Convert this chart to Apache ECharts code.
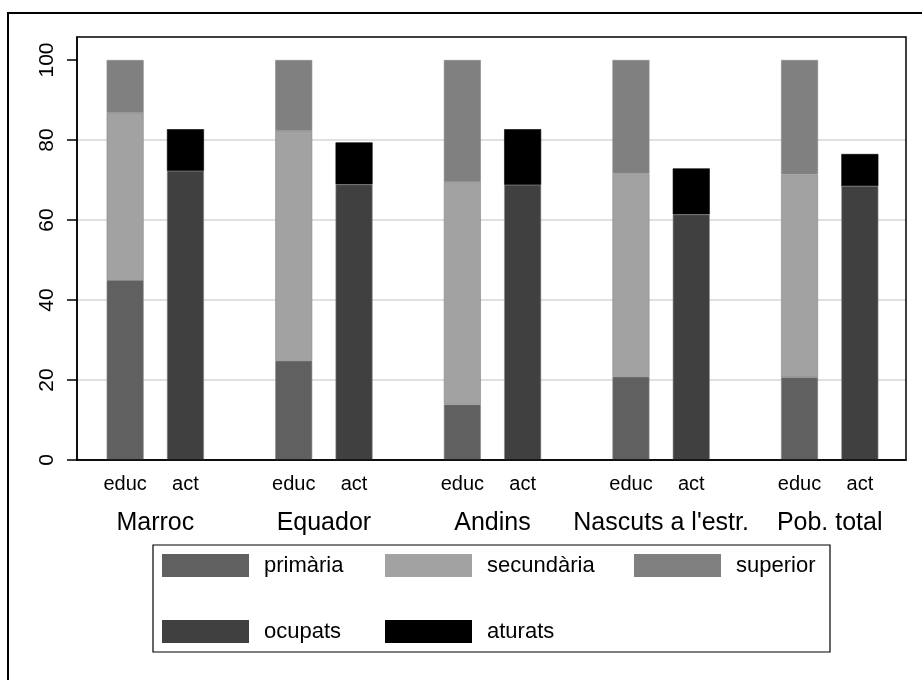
<!DOCTYPE html>
<html>
<head>
<meta charset="utf-8">
<script src="https://cdn.jsdelivr.net/npm/echarts@6/dist/echarts.min.js"></script>
<style>
html, body { margin: 0; padding: 0; background: #fff; }
#chart { width: 922px; height: 680px; }
</style>
</head>
<body>
<div id="chart"></div>
<script type="text/javascript">

// dades
var groups = ['Marroc', 'Equador', 'Andins', 'Nascuts a l\'estr.', 'Pob. total'];
var subLabels = ['educ', 'act'];
var primaria   = [45.0, 24.8, 13.9, 20.8, 20.7];
var secundaria = [41.8, 57.5, 55.6, 50.9, 50.7];
var superior   = [13.2, 17.7, 30.5, 28.3, 28.6];
var ocupats    = [72.3, 68.9, 68.8, 61.4, 68.5];
var aturats    = [10.4, 10.5, 13.9, 11.5, 8.0];
var yTicks     = [0, 20, 40, 60, 80, 100];

var font = 'Liberation Sans, Arial, sans-serif';
var yMax = 105.75;

function legendItem(name, left, top) {
    return {
        data: [name],
        left: left,
        top: top,
        orient: 'horizontal',
        padding: 0,
        icon: 'rect',
        itemWidth: 87,
        itemHeight: 23,
        selectedMode: false,
        itemStyle: { borderWidth: 0 },
        textStyle: { fontFamily: font, fontSize: 22, color: '#000', padding: [0, 0, 0, 10] }
    };
}

function bar(name, data, stack, color, label) {
    var s = {
        name: name,
        type: 'bar',
        stack: stack,
        xAxisIndex: 1,
        yAxisIndex: 1,
        data: data,
        barWidth: 37,
        barGap: '63%',
        itemStyle: { color: color, borderColor: color === '#000000' ? '#000' : '#8a8a8a', borderWidth: 0.6 }
    };
    if (label) {
        s.label = {
            show: true,
            position: 'bottom',
            distance: 14,
            formatter: label,
            fontFamily: font,
            fontSize: 20,
            color: '#000'
        };
    }
    return s;
}

var option = {
    animation: false,
    backgroundColor: '#fff',
    grid: [
        { left: 77, right: 16, top: 37, bottom: 220 },
        { left: 71, right: 8, top: 37, bottom: 220 }
    ],
    legend: [
        legendItem('primària', 162, 554),
        legendItem('secundària', 385, 554),
        legendItem('superior', 634, 554),
        legendItem('ocupats', 162, 620),
        legendItem('aturats', 385, 620)
    ],
    xAxis: [
        {
            gridIndex: 0, type: 'value', min: 0, max: 1,
            axisLine: { show: true, lineStyle: { color: '#000', width: 1.5 } },
            axisTick: { show: false }, axisLabel: { show: false }, splitLine: { show: false }
        },
        {
            gridIndex: 1, type: 'category', data: groups,
            axisLine: { show: false }, axisTick: { show: false },
            axisLabel: { interval: 0, margin: 51, fontFamily: font, fontSize: 25, color: '#000' }
        }
    ],
    yAxis: [
        {
            gridIndex: 0, type: 'value', min: 0, max: yMax, interval: 20,
            axisLine: { show: true, lineStyle: { color: '#000', width: 1.5 } },
            axisTick: { show: true, length: 10, customValues: yTicks, lineStyle: { color: '#000', width: 1.5 } },
            axisLabel: { customValues: yTicks, rotate: 90, margin: 19, fontFamily: font, fontSize: 21, color: '#000' },
            splitLine: { show: true, showMaxLine: false, lineStyle: { color: '#e0e0e0', width: 2 } }
        },
        {
            gridIndex: 1, type: 'value', min: 0, max: yMax, show: false
        }
    ],
    graphic: [
        { type: 'rect', shape: { x: 8, y: 13, width: 940, height: 700 }, style: { fill: 'none', stroke: '#000', lineWidth: 2 }, silent: true },
        { type: 'rect', shape: { x: 77, y: 37, width: 829, height: 423 }, style: { fill: 'none', stroke: '#000', lineWidth: 1.5 }, z: 10, silent: true },
        { type: 'rect', shape: { x: 153, y: 545, width: 677, height: 107 }, style: { fill: 'none', stroke: '#000', lineWidth: 1.2 }, silent: true }
    ],
    series: [
        bar('primària', primaria, 'educ', '#606060', subLabels[0]),
        bar('secundària', secundaria, 'educ', '#a2a2a2'),
        bar('superior', superior, 'educ', '#808080'),
        bar('ocupats', ocupats, 'act', '#404040', subLabels[1]),
        bar('aturats', aturats, 'act', '#000000')
    ]
};

var chart = echarts.init(document.getElementById('chart'));
chart.setOption(option);
</script>
</body>
</html>
